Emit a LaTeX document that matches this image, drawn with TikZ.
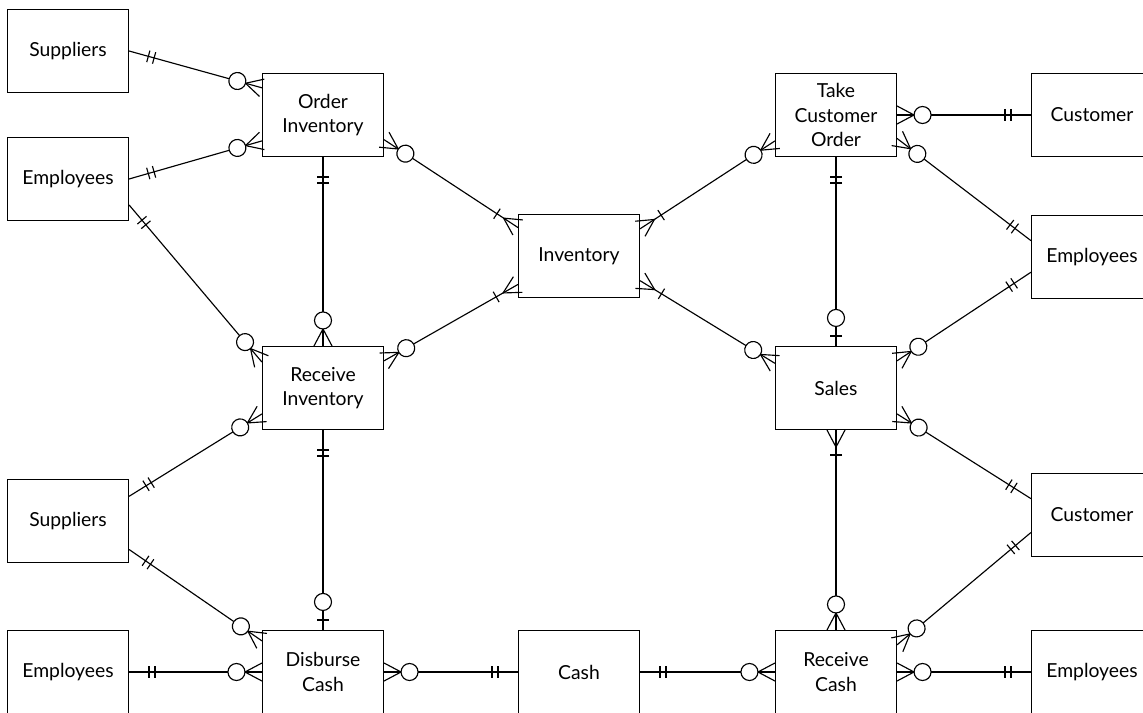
\documentclass[tikz,border=0pt]{standalone}
\usepackage{fontspec}
\setmainfont{Lato}
\usetikzlibrary{decorations.markings}
\tikzstyle{entity}=[draw,minimum width=2.42cm,minimum height=1.66cm,align=center,font=\fontsize{11}{14}\selectfont]
\tikzstyle{rel}=[line width=0.65pt]
% end symbols, drawn with the box at x=0 and the line coming from x<0
\newcommand{\symone}{\draw (-20,-6) -- (-20,6) (-26,-6) -- (-26,6);}
\newcommand{\symzeromany}{
  \draw (0,9) -- (-17,0) -- (0,-9);
  \draw[fill=white] (-25.5,0) circle (8.5);
}
\newcommand{\symonemany}{
  \draw (0,9) -- (-17,0) -- (0,-9);
  \draw (-25,-6) -- (-25,6);
}
\newcommand{\symzeroone}{
  \draw (-10,-6) -- (-10,6);
  \draw[fill=white] (-28,0) circle (8.5);
}
\tikzset{
  sym start/.style={postaction={decorate,decoration={markings,mark=at position 0 with {\pgftransformxscale{-1}#1}}}},
  sym end/.style={postaction={decorate,decoration={markings,mark=at position 1 with {#1}}}}
}
\begin{document}
\begin{tikzpicture}[x=0.02cm,y=-0.02cm,line width=0.65pt]
	\useasboundingbox[fill=white] (0,0) rectangle (1143,713);
	\node[entity] (supA) at (68,51) {Suppliers};
	\node[entity] (empA) at (68,179) {Employees};
	\node[entity] (ordinv) at (323,115) {Order\\Inventory};
	\node[entity] (inv) at (579,256) {Inventory};
	\node[entity] (takeord) at (836,115) {Take\\Customer\\Order};
	\node[entity] (custA) at (1092,115) {Customer};
	\node[entity] (empB) at (1092,257) {Employees};
	\node[entity] (recinv) at (323,388) {Receive\\Inventory};
	\node[entity] (sales) at (836,388) {Sales};
	\node[entity] (supB) at (68,521) {Suppliers};
	\node[entity] (custB) at (1092,515) {Customer};
	\node[entity] (empC) at (68,672) {Employees};
	\node[entity] (disb) at (323,672) {Disburse\\Cash};
	\node[entity] (cash) at (579,672) {Cash};
	\node[entity] (reccash) at (836,672) {Receive\\Cash};
	\node[entity] (empD) at (1092,672) {Employees};
	% purchases side
	\draw[rel,sym start=\symone,sym end=\symzeromany] (supA.east) -- (ordinv.156);
	\draw[rel,sym start=\symone,sym end=\symzeromany] (empA.east) -- (ordinv.203);
	\draw[rel,sym start=\symone,sym end=\symzeromany] (empA.337) -- (recinv.157);
	\draw[rel,sym start=\symone,sym end=\symzeromany] (ordinv.south) -- (recinv.north);
	\draw[rel,sym start=\symzeromany,sym end=\symonemany] (ordinv.338) -- (inv.155);
	\draw[rel,sym start=\symzeromany,sym end=\symonemany] (recinv.24) -- (inv.205);
	\draw[rel,sym start=\symone,sym end=\symzeromany] (supB.22) -- (recinv.203);
	\draw[rel,sym start=\symone,sym end=\symzeroone] (recinv.south) -- (disb.north);
	\draw[rel,sym start=\symone,sym end=\symzeromany] (supB.335) -- (disb.153);
	\draw[rel,sym start=\symone,sym end=\symzeromany] (empC.east) -- (disb.west);
	\draw[rel,sym start=\symzeromany,sym end=\symone] (disb.east) -- (cash.west);
	% sales side
	\draw[rel,sym start=\symzeromany,sym end=\symonemany] (takeord.203) -- (inv.24);
	\draw[rel,sym start=\symzeromany,sym end=\symonemany] (sales.158) -- (inv.338);
	\draw[rel,sym start=\symzeromany,sym end=\symone] (takeord.east) -- (custA.west);
	\draw[rel,sym start=\symzeromany,sym end=\symone] (takeord.339) -- (empB.165);
	\draw[rel,sym start=\symone,sym end=\symzeroone] (takeord.south) -- (sales.north);
	\draw[rel,sym start=\symzeromany,sym end=\symone] (sales.24) -- (empB.194);
	\draw[rel,sym start=\symzeromany,sym end=\symone] (sales.337) -- (custB.165);
	\draw[rel,sym start=\symonemany,sym end=\symzeromany] (sales.south) -- (reccash.north);
	\draw[rel,sym start=\symzeromany,sym end=\symone] (reccash.24) -- (custB.196);
	\draw[rel,sym start=\symzeromany,sym end=\symone] (reccash.east) -- (empD.west);
	\draw[rel,sym start=\symone,sym end=\symzeromany] (cash.east) -- (reccash.west);
\end{tikzpicture}
\end{document}
